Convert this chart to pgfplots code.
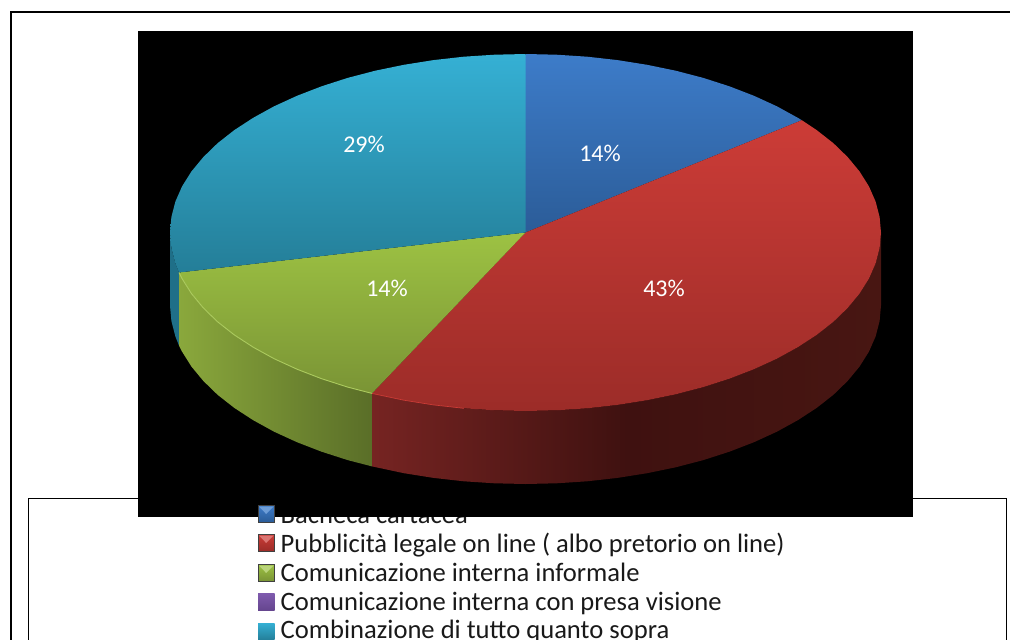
\documentclass[border=0pt]{standalone}
\usepackage{pgfplots}
\pgfplotsset{compat=1.18}
\usepackage{fontspec}
\setmainfont{Carlito}
\definecolor{blueT}{HTML}{3D7CC9}\definecolor{blueB}{HTML}{2B5C98}
\definecolor{redT}{HTML}{CC3C37}\definecolor{redB}{HTML}{9C2C28}
\definecolor{greenT}{HTML}{9DC243}\definecolor{greenB}{HTML}{7A9435}
\definecolor{tealT}{HTML}{35B0D4}\definecolor{tealB}{HTML}{247E98}
\definecolor{tealS}{HTML}{1F6F88}
\definecolor{greenSL}{HTML}{8AA83C}\definecolor{greenSR}{HTML}{5A6E28}
\definecolor{redSL}{HTML}{762422}\definecolor{redSM}{HTML}{3F1110}\definecolor{redSR}{HTML}{481612}
\definecolor{purpT}{HTML}{7F5BAE}\definecolor{purpB}{HTML}{66468F}
\begin{document}
\begin{tikzpicture}
\useasboundingbox (0,0) rectangle (1010pt,640pt);
\begin{axis}[hide axis,scale only axis,width=1010pt,height=640pt,
  xmin=0,xmax=1010,ymin=0,ymax=640,y dir=reverse,clip=true]
% page frame
\addplot[black,line width=2.5pt,forget plot] coordinates {(11,660) (11,12) (1030,12)};
% legend box
\addplot[black,line width=0.8pt,forget plot] coordinates {(28.5,660) (28.5,498.5) (1006.5,498.5) (1006.5,660)};
% legend texts
\node[anchor=base west,inner sep=0pt,font=\fontsize{26.6}{26.6}\selectfont,text=black!90] at (axis cs:280.5,523) {Bacheca cartacea};
\node[anchor=base west,inner sep=0pt,font=\fontsize{26.6}{26.6}\selectfont,text=black!90] at (axis cs:280.5,552) {Pubblicità legale on line ( albo pretorio on line)};
\node[anchor=base west,inner sep=0pt,font=\fontsize{26.6}{26.6}\selectfont,text=black!90] at (axis cs:280.5,581) {Comunicazione interna informale};
\node[anchor=base west,inner sep=0pt,font=\fontsize{26.6}{26.6}\selectfont,text=black!90] at (axis cs:280.5,610) {Comunicazione interna con presa visione};
\node[anchor=base west,inner sep=0pt,font=\fontsize{26.6}{26.6}\selectfont,text=black!90] at (axis cs:280.5,638.5) {Combinazione di tutto quanto sopra};
% black chart area
\addplot[fill=black,draw=none,forget plot] coordinates {(138,31) (913,31) (913,517) (138,517)} --cycle;
% sides
\addplot[draw=none,fill=tealS,forget plot] coordinates {
(170,232.5)(171.4,248.1)(175.4,263.5)(179,272.5)(179,345.5)(175.4,336.5)(171.4,321.1)(170,305.5)} --cycle;
\addplot[draw=none,left color=greenSL,right color=greenSR,forget plot] coordinates {
(179,272.5)(182.1,278.7)(191.4,293.5)(203.3,307.9)(217.6,321.8)(234.3,334.9)(253.2,347.2)(274.1,358.7)(297,369.2)(321.6,378.7)(347.7,387.1)(372,393.4)
(372,466.4)(347.7,460.1)(321.6,451.7)(297,442.2)(274.1,431.7)(253.2,420.2)(234.3,407.9)(217.6,394.8)(203.3,380.9)(191.4,366.5)(182.1,351.7)(179,345.5)} --cycle;
\addplot[draw=none,left color=redSL,right color=redSR,middle color=redSM,forget plot] coordinates {
(881,232.5)(879.6,248.1)(875.6,263.5)(868.9,278.7)(859.6,293.5)(847.7,307.9)(833.4,321.8)(816.7,334.9)(797.8,347.2)(776.9,358.7)(754,369.2)(729.4,378.7)(703.3,387.1)(675.7,394.3)(647.1,400.2)(617.5,404.9)(587.2,408.3)(556.5,410.3)(525.5,411)(494.5,410.3)(463.8,408.3)(433.5,404.9)(403.9,400.2)(372,393.4)
(372,466.4)(403.9,473.2)(433.5,477.9)(463.8,481.3)(494.5,483.3)(525.5,484)(556.5,483.3)(587.2,481.3)(617.5,477.9)(647.1,473.2)(675.7,467.3)(703.3,460.1)(729.4,451.7)(754,442.2)(776.9,431.7)(797.8,420.2)(816.7,407.9)(833.4,394.8)(847.7,380.9)(859.6,366.5)(868.9,351.7)(875.6,336.5)(879.6,321.1)(881,305.5)} --cycle;
% top faces
\addplot[draw=none,top color=blueT,bottom color=blueB,forget plot] coordinates {
(525.5,232.5)(525.5,54)(556.5,54.7)(587.2,56.7)(617.5,60.1)(647.1,64.8)(675.7,70.7)(703.3,77.9)(729.4,86.3)(754,95.8)(776.9,106.3)(797.8,117.8)(801.8,120.2)} --cycle;
\addplot[draw=none,top color=redT,bottom color=redB,forget plot] coordinates {
(525.5,232.5)(801.8,120.2)(816.7,130.1)(833.4,143.2)(847.7,157.1)(859.6,171.5)(868.9,186.3)(875.6,201.5)(879.6,216.9)(881,232.5)(879.6,248.1)(875.6,263.5)(868.9,278.7)(859.6,293.5)(847.7,307.9)(833.4,321.8)(816.7,334.9)(797.8,347.2)(776.9,358.7)(754,369.2)(729.4,378.7)(703.3,387.1)(675.7,394.3)(647.1,400.2)(617.5,404.9)(587.2,408.3)(556.5,410.3)(525.5,411)(494.5,410.3)(463.8,408.3)(433.5,404.9)(403.9,400.2)(372,393.4)} --cycle;
\addplot[draw=none,top color=greenT,bottom color=greenB,forget plot] coordinates {
(525.5,232.5)(372,393.4)(347.7,387.1)(321.6,378.7)(297,369.2)(274.1,358.7)(253.2,347.2)(234.3,334.9)(217.6,321.8)(203.3,307.9)(191.4,293.5)(182.1,278.7)(179,272.5)} --cycle;
\addplot[draw=none,top color=tealT,bottom color=tealB,forget plot] coordinates {
(525.5,232.5)(179,272.5)(175.4,263.5)(171.4,248.1)(170,232.5)(171.4,216.9)(175.4,201.5)(182.1,186.3)(191.4,171.5)(203.3,157.1)(217.6,143.2)(234.3,130.1)(253.2,117.8)(274.1,106.3)(297,95.8)(321.6,86.3)(347.7,77.9)(375.3,70.7)(403.9,64.8)(433.5,60.1)(463.8,56.7)(494.5,54.7)(525.5,54)} --cycle;
% rim highlights
\addplot[draw=greenT!85!white,line width=0.9pt,forget plot] coordinates {
(179,272.5)(182.1,278.7)(191.4,293.5)(203.3,307.9)(217.6,321.8)(234.3,334.9)(253.2,347.2)(274.1,358.7)(297,369.2)(321.6,378.7)(347.7,387.1)(372,393.4)};
\addplot[draw=redT,line width=0.7pt,forget plot] coordinates {
(372,393.4)(403.9,400.2)(433.5,404.9)(463.8,408.3)};
% slice labels
\node[text=white,font=\fontsize{24}{24}\selectfont] at (axis cs:600,153) {14\%};
\node[text=white,font=\fontsize{24}{24}\selectfont] at (axis cs:664,288) {43\%};
\node[text=white,font=\fontsize{24}{24}\selectfont] at (axis cs:387,288) {14\%};
\node[text=white,font=\fontsize{24}{24}\selectfont] at (axis cs:364,144) {29\%};
% legend keys
\addplot[draw=black!75,line width=0.9pt,top color=blueT,bottom color=blueB,forget plot] coordinates {(258,505.5)(274.5,505.5)(274.5,522)(258,522)} --cycle;
\addplot[draw=none,fill=blueT!75!white,forget plot] coordinates {(259,506.5)(273.5,506.5)(266.2,514)} --cycle;
\addplot[draw=black!75,line width=0.9pt,top color=redT,bottom color=redB,forget plot] coordinates {(258,534.5)(274.5,534.5)(274.5,551)(258,551)} --cycle;
\addplot[draw=none,fill=redT!70!white,forget plot] coordinates {(259,535.5)(273.5,535.5)(266.2,543)} --cycle;
\addplot[draw=black!75,line width=0.9pt,top color=greenT,bottom color=greenB,forget plot] coordinates {(258,564.5)(274.5,564.5)(274.5,581)(258,581)} --cycle;
\addplot[draw=none,fill=greenT!70!white,forget plot] coordinates {(259,565.5)(273.5,565.5)(266.2,573)} --cycle;
\addplot[draw=none,top color=purpT,bottom color=purpB,forget plot] coordinates {(258,593)(274.5,593)(274.5,610)(258,610)} --cycle;
\addplot[draw=none,top color=tealT,bottom color=tealB,forget plot] coordinates {(258,623)(274.5,623)(274.5,640)(258,640)} --cycle;
\end{axis}
\end{tikzpicture}
\end{document}
